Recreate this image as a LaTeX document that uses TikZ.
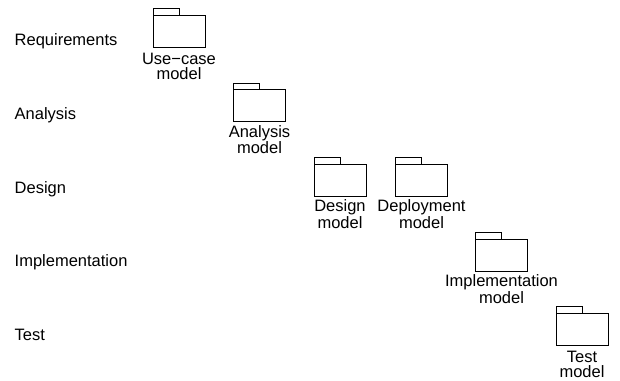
\documentclass[tikz,border=0pt]{standalone}
\usepackage{fontspec}
\setmainfont{Liberation Sans}
\begin{document}
\begin{tikzpicture}[x=1pt,y=-1pt,
  every node/.style={font=\fontsize{16.5}{15}\selectfont},
  folderbody/.style={draw, line width=0.8pt, minimum width=52pt, minimum height=32pt,
    inner sep=0pt, outer sep=0pt, anchor=north west},
  foldertab/.style={draw, line width=0.8pt, minimum width=26pt, minimum height=6.5pt,
    inner sep=0pt, outer sep=0pt, anchor=south west},
  caption/.style={align=center, anchor=base, inner sep=0pt, yshift=-32pt},
  phase/.style={anchor=base west, inner sep=0pt},
  pics/folder/.style={code={
    \node[folderbody] (-body) at (0,0) {};
    \node[foldertab] (-tab) at (-body.north west) {};
  }}]
\useasboundingbox (0,0) rectangle (620,380);

% workflow names
\node[phase] (req) at (14.5,45) {Requirements};
\node[phase] (ana) at (14.5,119) {Analysis};
\node[phase] (des) at (14.5,193) {Design};
\node[phase] (imp) at (14.5,266) {Implementation};
\node[phase] (tst) at (14.5,340) {Test};

% model packages
\pic (uc) at (153,15) {folder};
\pic (an) at (233.5,89.5) {folder};
\pic (ds) at (314,164) {folder};
\pic (dp) at (395.5,164) {folder};
\pic (im) at (475.5,239) {folder};
\pic (ts) at (556,313) {folder};

\node[caption] (uc-label) at (uc-body.south) {Use−case\\model};
\node[caption] (an-label) at (an-body.south) {Analysis\\model};
\node[caption] (ds-label) at (ds-body.south) {Design\\model};
\node[caption] (dp-label) at (dp-body.south) {Deployment\\model};
\node[caption] (im-label) at (im-body.south) {Implementation\\model};
\node[caption] (ts-label) at (ts-body.south) {Test\\model};
\end{tikzpicture}
\end{document}
